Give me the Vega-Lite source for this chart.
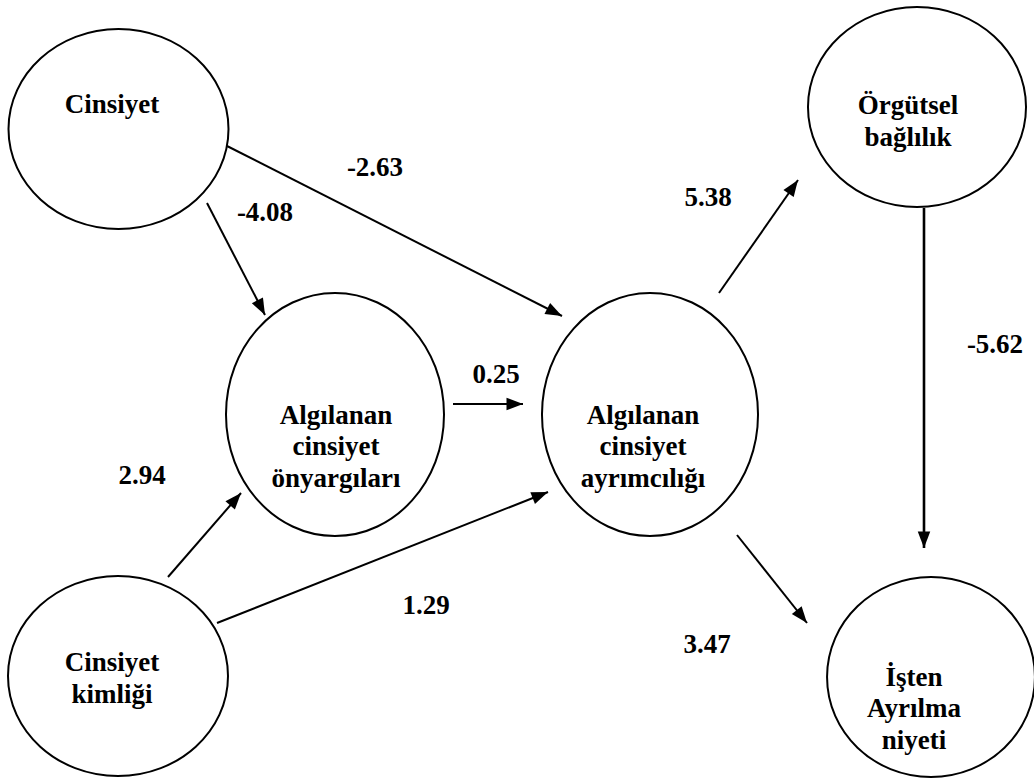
{
  "$schema": "https://vega.github.io/schema/vega-lite/v6.json",
  "width": 1034,
  "height": 778,
  "padding": 0,
  "autosize": {"type": "none"},
  "background": "white",
  "config": {"view": {"stroke": null}},
  "datasets": {
    "nodes": [
      {"id": "cinsiyet", "label": "Cinsiyet", "x": 118.5, "y": 129, "tx": 112, "ty": 105},
      {"id": "orgutsel", "label": "Örgütsel\nbağlılık", "x": 917, "y": 107, "tx": 908, "ty": 106},
      {"id": "onyargi", "label": "Algılanan\ncinsiyet\nönyargıları", "x": 335, "y": 414.5, "tx": 336, "ty": 415.5},
      {"id": "ayrimcilik", "label": "Algılanan\ncinsiyet\nayrımcılığı", "x": 650, "y": 414.5, "tx": 643, "ty": 415.5},
      {"id": "kimlik", "label": "Cinsiyet\nkimliği", "x": 118, "y": 676, "tx": 112, "ty": 663},
      {"id": "isten", "label": "İşten\nAyrılma\nniyeti", "x": 931, "y": 677, "tx": 914, "ty": 677.5}
    ],
    "edges": [
      {"from": "cinsiyet", "to": "onyargi", "x": 207, "y": 203, "x2": 265, "y2": 315, "coef": "-4.08", "lx": 265, "ly": 213},
      {"from": "cinsiyet", "to": "ayrimcilik", "x": 227, "y": 146, "x2": 562, "y2": 316, "coef": "-2.63", "lx": 375, "ly": 168},
      {"from": "onyargi", "to": "ayrimcilik", "x": 453, "y": 404, "x2": 523, "y2": 404, "coef": "0.25", "lx": 496, "ly": 375},
      {"from": "kimlik", "to": "onyargi", "x": 168, "y": 577, "x2": 241, "y2": 493, "coef": "2.94", "lx": 142, "ly": 476},
      {"from": "kimlik", "to": "ayrimcilik", "x": 217, "y": 623, "x2": 548, "y2": 492, "coef": "1.29", "lx": 426, "ly": 606},
      {"from": "ayrimcilik", "to": "orgutsel", "x": 719, "y": 293, "x2": 798, "y2": 180, "coef": "5.38", "lx": 708, "ly": 198},
      {"from": "orgutsel", "to": "isten", "x": 924, "y": 208, "x2": 924, "y2": 548, "coef": "-5.62", "lx": 995, "ly": 345},
      {"from": "ayrimcilik", "to": "isten", "x": 737, "y": 535, "x2": 807, "y2": 623, "coef": "3.47", "lx": 707, "ly": 645}
    ]
  },
  "encoding": {},
  "layer": [
    {
      "data": {"name": "nodes"},
      "mark": {"type": "point", "filled": false, "stroke": "black", "strokeWidth": 2, "opacity": 1, "size": 48400},
      "encoding": {
        "x": {"field": "x", "type": "quantitative", "scale": {"domain": [0, 1034], "nice": false, "zero": false}, "axis": null},
        "y": {"field": "y", "type": "quantitative", "scale": {"domain": [0, 778], "reverse": true, "nice": false, "zero": false}, "axis": null},
        "shape": {
          "field": "id", "type": "nominal", "legend": null,
          "scale": {
            "domain": ["cinsiyet", "orgutsel", "onyargi", "ayrimcilik", "kimlik", "isten"],
            "range": [
              "M1,0C1,0.502,0.552,0.909,0,0.909C-0.552,0.909,-1,0.502,-1,0C-1,-0.502,-0.552,-0.909,0,-0.909C0.552,-0.909,1,-0.502,1,0Z",
              "M0.991,0C0.991,0.502,0.547,0.909,0,0.909C-0.547,0.909,-0.991,0.502,-0.991,0C-0.991,-0.502,-0.547,-0.909,0,-0.909C0.547,-0.909,0.991,-0.502,0.991,0Z",
              "M0.991,0C0.991,0.610,0.547,1.105,0,1.105C-0.547,1.105,-0.991,0.610,-0.991,0C-0.991,-0.610,-0.547,-1.105,0,-1.105C0.547,-1.105,0.991,-0.610,0.991,0Z",
              "M0.982,0C0.982,0.610,0.542,1.105,0,1.105C-0.542,1.105,-0.982,0.610,-0.982,0C-0.982,-0.610,-0.542,-1.105,0,-1.105C0.542,-1.105,0.982,-0.610,0.982,0Z",
              "M1,0C1,0.502,0.552,0.909,0,0.909C-0.552,0.909,-1,0.502,-1,0C-1,-0.502,-0.552,-0.909,0,-0.909C0.552,-0.909,1,-0.502,1,0Z",
              "M0.945,0C0.945,0.502,0.522,0.909,0,0.909C-0.522,0.909,-0.945,0.502,-0.945,0C-0.945,-0.502,-0.522,-0.909,0,-0.909C0.522,-0.909,0.945,-0.502,0.945,0Z"
            ]
          }
        }
      }
    },
    {
      "data": {"name": "nodes"},
      "mark": {"type": "text", "font": "Liberation Serif, Times New Roman, DejaVu Serif, serif", "fontWeight": "bold", "fontSize": 27, "lineBreak": "\n", "lineHeight": 31.5, "align": "center", "baseline": "middle", "color": "black"},
      "encoding": {
        "x": {"field": "tx", "type": "quantitative"},
        "y": {"field": "ty", "type": "quantitative"},
        "text": {"field": "label"}
      }
    },
    {
      "data": {"name": "edges"},
      "mark": {"type": "rule", "color": "black"},
      "encoding": {
        "x": {"field": "x", "type": "quantitative"},
        "y": {"field": "y", "type": "quantitative"},
        "x2": {"field": "x2"},
        "y2": {"field": "y2"},
        "strokeWidth": {"condition": {"test": "datum.from === 'orgutsel'", "value": 2.6}, "value": 2}
      }
    },
    {
      "data": {"name": "edges"},
      "transform": [{"calculate": "atan2(datum.x2 - datum.x, datum.y - datum.y2) * 180 / PI", "as": "angle"}],
      "mark": {"type": "point", "filled": true, "color": "black", "opacity": 1, "size": 100, "shape": "M0,0L-1.25,3.3L1.25,3.3Z", "strokeWidth": 0},
      "encoding": {
        "x": {"field": "x2", "type": "quantitative"},
        "y": {"field": "y2", "type": "quantitative"},
        "angle": {"field": "angle", "type": "quantitative", "scale": null}
      }
    },
    {
      "data": {"name": "edges"},
      "mark": {"type": "text", "font": "Liberation Serif, Times New Roman, DejaVu Serif, serif", "fontWeight": "bold", "fontSize": 27, "align": "center", "baseline": "middle", "color": "black"},
      "encoding": {
        "x": {"field": "lx", "type": "quantitative"},
        "y": {"field": "ly", "type": "quantitative"},
        "text": {"field": "coef"}
      }
    }
  ]
}
